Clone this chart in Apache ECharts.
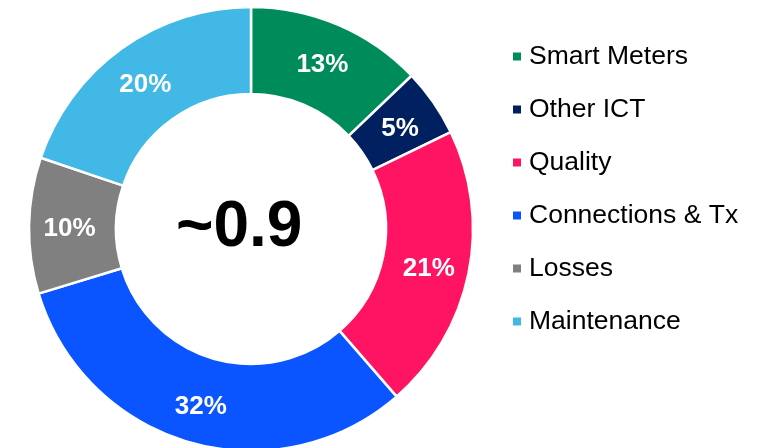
<!DOCTYPE html>
<html><head><meta charset="utf-8">
<script src="https://cdn.jsdelivr.net/npm/echarts@6/dist/echarts.min.js"></script>
<style>html,body{margin:0;padding:0;background:#fff}#c{width:764px;height:448px}</style>
</head><body><div id="c"></div>
<script>
const categories = ['Smart Meters', 'Other ICT', 'Quality', 'Connections & Tx', 'Losses', 'Maintenance'];
const shares = [13, 5, 21, 32, 10, 20];
const colors = ['#008C5A', '#002060', '#FF1464', '#0A55FF', '#808080', '#41B8E6'];
const centerText = '~0.9';

const chart = echarts.init(document.getElementById('c'));
chart.setOption({
  animation: false,
  color: colors,
  legend: {
    orient: 'vertical',
    left: 511,
    top: 43,
    padding: 0,
    itemWidth: 10,
    itemHeight: 10,
    itemGap: 26,
    icon: 'rect',
    textStyle: { fontFamily: 'Liberation Sans, Arial, sans-serif', fontSize: 26.5, lineHeight: 26, color: '#000', padding: [0, 0, 0, 2] },
    data: categories
  },
  graphic: [{
    type: 'text',
    left: 176,
    top: 196,
    style: { text: centerText, font: 'bold 64px "Liberation Sans", Arial, sans-serif', fill: '#000' }
  }],
  series: [{
    type: 'pie',
    center: [251, 229],
    radius: [135, 222],
    startAngle: 90,
    clockwise: true,
    itemStyle: { borderColor: '#fff', borderWidth: 2.5 },
    label: {
      position: 'inside',
      formatter: p => p.value + '%',
      color: '#fff',
      fontFamily: 'Liberation Sans, Arial, sans-serif',
      fontWeight: 'bold',
      fontSize: 26,
      offset: [0, 3]
    },
    labelLine: { show: false },
    data: categories.map((c, i) => ({ name: c, value: shares[i] }))
  }]
});
</script></body></html>
